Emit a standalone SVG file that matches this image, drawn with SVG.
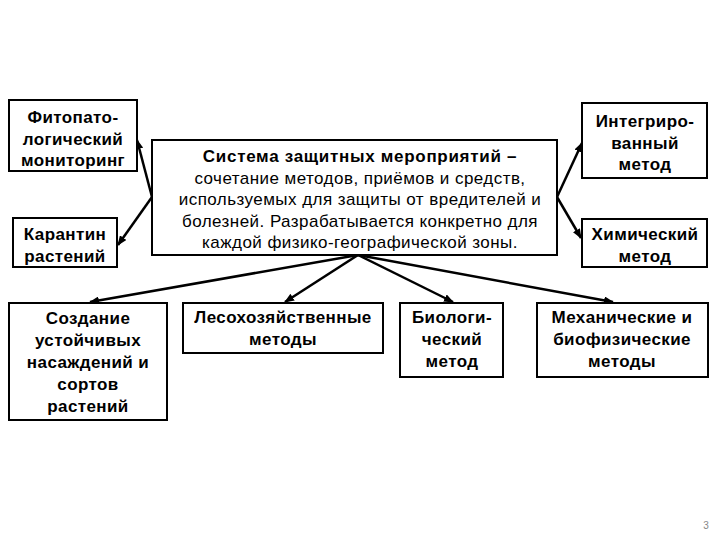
<svg xmlns="http://www.w3.org/2000/svg" width="720" height="540" viewBox="0 0 720 540">
<defs>
<style>
.box{fill:#fff;stroke:#000;stroke-width:2}
.t{font-family:"Liberation Sans",Arial,sans-serif;font-size:17px;text-anchor:middle;fill:#000;letter-spacing:0.4px}
.b{font-weight:bold}
.r{font-weight:normal;letter-spacing:0.45px}
.c{stroke:#000;stroke-width:2.5;fill:none;marker-end:url(#ah)}
</style>
<marker id="ah" markerWidth="10" markerHeight="8" refX="9" refY="4" orient="auto" markerUnits="userSpaceOnUse">
<path d="M0,0 L10,4 L0,8 Z" fill="#000"/>
</marker>
</defs>
<rect width="720" height="540" fill="#fff"/>
<g id="connectors">
<line class="c" x1="152" y1="197" x2="137" y2="140"/>
<line class="c" x1="152" y1="197" x2="118" y2="245"/>
<line class="c" x1="557" y1="197" x2="582" y2="143"/>
<line class="c" x1="557" y1="197" x2="581" y2="238"/>
<line class="c" x1="358" y1="255" x2="90" y2="302"/>
<line class="c" x1="358" y1="255" x2="285" y2="302"/>
<line class="c" x1="358" y1="255" x2="453" y2="302"/>
<line class="c" x1="358" y1="255" x2="613" y2="302"/>
</g>
<g id="center">
<rect class="box" x="152" y="140" width="405" height="115"/>
<text class="t" x="360" y="162"><tspan class="b" style="letter-spacing:0.7px">Система защитных мероприятий –</tspan><tspan class="r" x="360" dy="21.5">сочетание методов, приёмов и средств,</tspan><tspan class="r" x="360" dy="21.5">используемых для защиты от вредителей и</tspan><tspan class="r" x="360" dy="21.5">болезней. Разрабатывается конкретно для</tspan><tspan class="r" x="360" dy="21.5">каждой физико-географической зоны.</tspan></text>
</g>
<g id="fito">
<rect class="box" x="9" y="100" width="128" height="71"/>
<text class="t b" x="73" y="123">Фитопато-<tspan x="73" dy="21.5">логический</tspan><tspan x="73" dy="21.5">мониторинг</tspan></text>
</g>
<g id="karantin">
<rect class="box" x="13" y="218" width="104" height="49"/>
<text class="t b" x="65" y="240">Карантин<tspan x="65" dy="21.5">растений</tspan></text>
</g>
<g id="integr">
<rect class="box" x="582" y="103" width="125" height="75"/>
<text class="t b" x="645" y="127">Интегриро-<tspan x="645" dy="21.5">ванный</tspan><tspan x="645" dy="21.5">метод</tspan></text>
</g>
<g id="chem">
<rect class="box" x="582" y="219" width="125" height="48"/>
<text class="t b" x="645" y="240">Химический<tspan x="645" dy="21.5">метод</tspan></text>
</g>
<g id="sozdanie">
<rect class="box" x="9" y="303" width="158" height="117"/>
<text class="t b" x="88" y="324">Создание<tspan x="88" dy="22">устойчивых</tspan><tspan x="88" dy="22">насаждений и</tspan><tspan x="88" dy="22">сортов</tspan><tspan x="88" dy="22">растений</tspan></text>
</g>
<g id="les">
<rect class="box" x="183" y="303" width="200" height="50"/>
<text class="t b" x="283" y="323">Лесохозяйственные<tspan x="283" dy="22">методы</tspan></text>
</g>
<g id="bio">
<rect class="box" x="400" y="303" width="103" height="74"/>
<text class="t b" x="452" y="323">Биологи-<tspan x="452" dy="22">ческий</tspan><tspan x="452" dy="22">метод</tspan></text>
</g>
<g id="mech">
<rect class="box" x="537" y="303" width="171" height="74"/>
<text class="t b" x="622" y="323">Механические и<tspan x="622" dy="22">биофизические</tspan><tspan x="622" dy="22">методы</tspan></text>
</g>
<text x="706" y="529" style="font-family:'Liberation Sans',Arial,sans-serif;font-size:10px;fill:#888;text-anchor:middle">3</text>
</svg>
